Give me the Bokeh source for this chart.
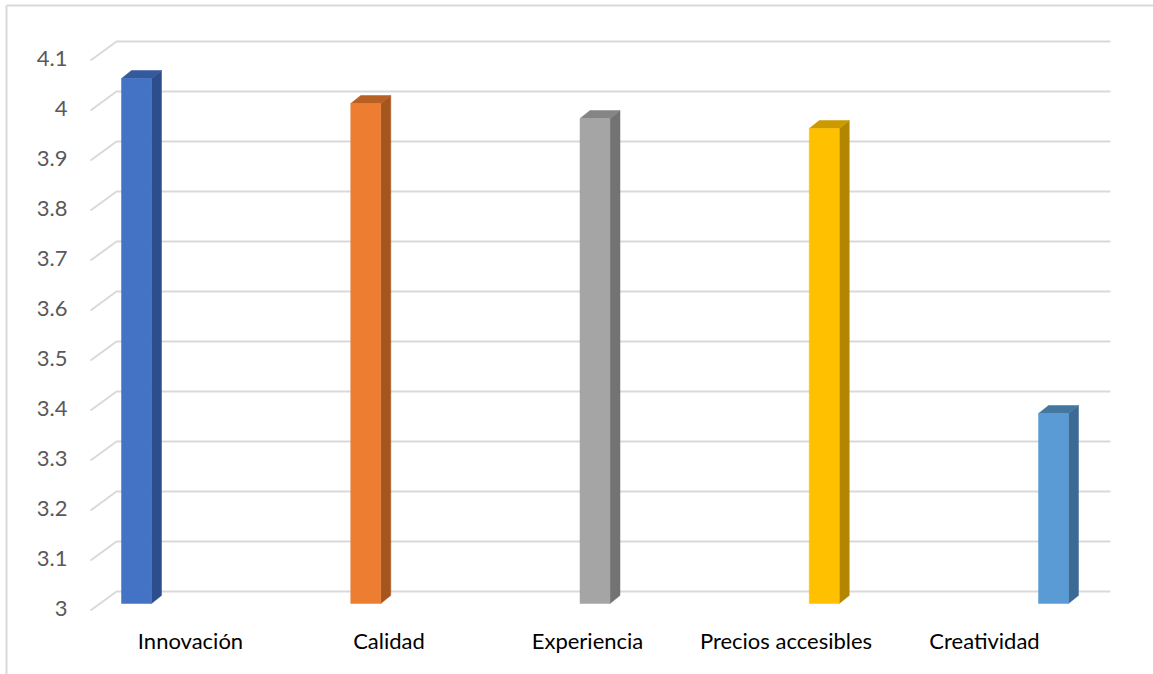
from bokeh.plotting import figure
from bokeh.models import Range1d
from bokeh.core.properties import value
from bokeh.embed import file_html
from bokeh.resources import INLINE

# ---- data ----
categories = ["Innovación", "Calidad", "Experiencia", "Precios accesibles", "Creatividad"]
scores = [4.05, 4.0, 3.97, 3.95, 3.38]
tick_values = [3.0, 3.1, 3.2, 3.3, 3.4, 3.5, 3.6, 3.7, 3.8, 3.9, 4.0, 4.1]
tick_labels = ["3", "3.1", "3.2", "3.3", "3.4", "3.5", "3.6", "3.7", "3.8", "3.9", "4", "4.1"]

front_colors = ["#4472C4", "#ED7D31", "#A5A5A5", "#FFC000", "#5B9BD5"]
side_colors = ["#2C4E8C", "#A5561F", "#737373", "#B38600", "#3C6A94"]
top_colors = ["#34599C", "#B85F22", "#858585", "#CC9A00", "#44779F"]

W, H = 1153, 674
PX = 1 / 500.0          # value units per pixel on the wall
Y_TOP = 4.1 + 41 * PX   # value at the top edge of the canvas
Y_BOT = Y_TOP - H * PX


def py(pix):
    """Canvas pixel row -> value coordinate."""
    return Y_TOP - pix * PX


p = figure(width=W, height=H, output_backend="svg", toolbar_location=None,
           x_range=Range1d(0, W), y_range=Range1d(Y_BOT, Y_TOP),
           min_border=0, outline_line_color=None)
p.axis.visible = False
p.grid.visible = False
p.background_fill_color = "white"

# chart border
p.line([6, 6], [py(H), py(5)], line_color="#D9D9D9", line_width=2)
p.line([6, W], [py(5), py(5)], line_color="#D9D9D9", line_width=2)

# 3-D gridlines: floor diagonal + back-wall line
grid_col = "#D9D9D9"
wall_x0, wall_x1 = 116, 1110
depth_dx, depth_dy = 26, 19 * PX
for t in tick_values:
    p.line([wall_x0 - depth_dx, wall_x0, wall_x1], [t - depth_dy, t, t],
           line_color=grid_col, line_width=2)

# tick labels
p.text(x=[67] * len(tick_values), y=[t - 17 * PX for t in tick_values], text=tick_labels,
       text_align="right", text_baseline="middle", text_font=value("Lato"),
       text_font_size="22px", text_color="#595959")

# 3-D columns
bar_x0, bar_step, bar_w = 121, 229.25, 30
bar_dx, bar_dy = 10, 8 * PX
front_off = 12 * PX       # front face sits in front of the wall
base = tick_values[0]

fx0, fx1, fbot, ftop = [], [], [], []
side_xs, side_ys, top_xs, top_ys = [], [], [], []
for i, v in enumerate(scores):
    x0 = bar_x0 + i * bar_step
    x1 = x0 + bar_w
    yb = base - front_off
    yt = v - front_off
    fx0.append(x0); fx1.append(x1); fbot.append(yb); ftop.append(yt)
    side_xs.append([x1, x1, x1 + bar_dx, x1 + bar_dx])
    side_ys.append([yb, yt, yt + bar_dy, yb + bar_dy])
    top_xs.append([x0, x1, x1 + bar_dx, x0 + bar_dx])
    top_ys.append([yt, yt, yt + bar_dy, yt + bar_dy])

p.patches(side_xs, side_ys, fill_color=side_colors, line_color=side_colors, line_width=0.5)
p.patches(top_xs, top_ys, fill_color=top_colors, line_color=top_colors, line_width=0.5)
p.quad(left=fx0, right=fx1, bottom=fbot, top=ftop,
       fill_color=front_colors, line_color=front_colors, line_width=0.5)

# category labels along the front edge
lab_x0, lab_step = 190, 198.5
p.text(x=[lab_x0 + i * lab_step for i in range(len(categories))],
       y=[py(640)] * len(categories), text=categories,
       text_align="center", text_baseline="middle", text_font=value("Lato"),
       text_font_size="22px", text_color="#000000")

open("out.html", "w").write(file_html(p, INLINE))
